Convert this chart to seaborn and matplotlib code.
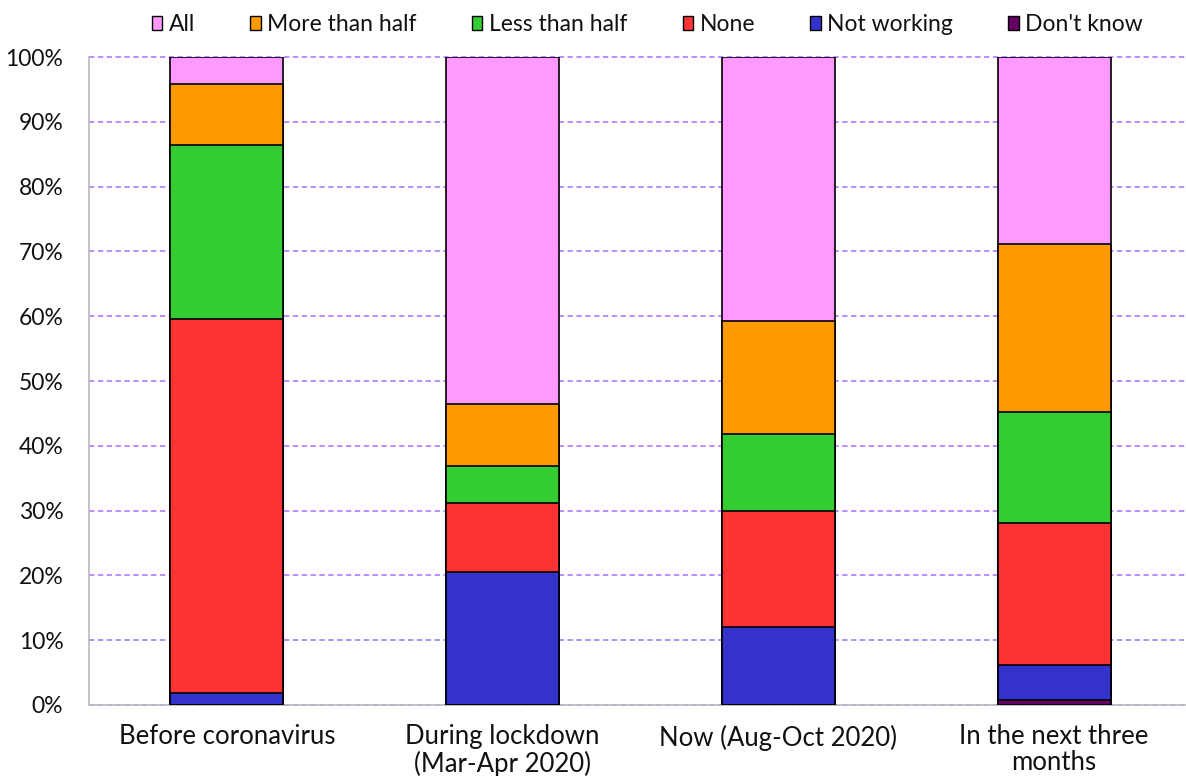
import matplotlib
matplotlib.use("Agg")
import matplotlib.pyplot as plt
import seaborn as sns
import numpy as np
import pandas as pd
from matplotlib.patches import Patch
from matplotlib.ticker import FixedLocator

categories = ["Before coronavirus", "During lockdown\n(Mar-Apr 2020)",
              "Now (Aug-Oct 2020)", "In the next three\nmonths"]
series_names = ["All", "More than half", "Less than half", "None", "Not working", "Don't know"]
all_vals = [4.2, 53.5, 40.7, 28.9]
more_half = [9.4, 9.6, 17.5, 25.9]
less_half = [26.9, 5.7, 11.9, 17.1]
none_vals = [57.7, 10.7, 17.9, 21.9]
not_working = [1.8, 20.5, 12.0, 5.4]
dont_know = [0.0, 0.0, 0.0, 0.8]
colors = ["#FF99FF", "#FF9900", "#33CC33", "#FF3333", "#3333CC", "#660066"]

sns.set_theme(style="white")
plt.rcParams['font.family'] = ['Lato', 'DejaVu Sans']

fig = plt.figure(figsize=(11.86, 7.76), dpi=100)
ax = fig.add_axes([0.0751, 0.0915, 0.93, 0.835])

series = [all_vals, more_half, less_half, none_vals, not_working, dont_know]
# stacked from bottom: dont_know, not_working, none, less, more, all
stack_order = list(range(len(series)))[::-1]
cum = np.zeros(len(categories))
cums = {}
for i in stack_order:
    cum = cum + np.array(series[i])
    cums[i] = cum.copy()

for i in range(len(series)):
    if np.allclose(series[i], 0):
        continue
    df = pd.DataFrame({"cat": categories, "val": cums[i]})
    sns.barplot(data=df, x="cat", y="val", color=colors[i], ax=ax, width=0.41,
                edgecolor="black", linewidth=1.2, saturation=1, zorder=3)

ax.set_ylim(0, 100)
ax.set_xlim(-0.5, 3.5)
ax.set_yticks(np.arange(0, 101, 10))
ax.set_yticklabels([f"{v}%" for v in range(0, 101, 10)], fontsize=16.5, color="#111111")
ax.set_xlabel("")
ax.set_ylabel("")
ax.tick_params(axis="x", which="major", length=0, labelsize=18.5, pad=14, labelcolor="#111111")
ax.xaxis.set_minor_locator(FixedLocator([-0.5, 0.5, 1.5, 2.5]))
ax.tick_params(axis="x", which="minor", length=8, color="#BBBBBB", width=1, direction="out")
ax.tick_params(axis="y", which="major", length=5, color="#BBBBBB", width=1, direction="out", pad=13.5)
for lbl in ax.get_xticklabels():
    lbl.set_linespacing(1.05)

ax.yaxis.grid(True, linestyle=(0, (3.5, 2.3)), color="#A070FF", linewidth=1.1, zorder=0)
for gl in ax.get_ygridlines():
    gl.set_clip_on(False)
ax.set_axisbelow(True)
for s in ["top", "right"]:
    ax.spines[s].set_visible(False)
ax.spines["left"].set_color("#BBBBBB")
ax.spines["bottom"].set_color("#BBBBBB")
ax.spines["left"].set_zorder(4)

handles = [Patch(facecolor=c, edgecolor="black", linewidth=1) for c in colors]
fig.legend(handles, series_names, loc="center", bbox_to_anchor=(0.546, 0.968), ncol=6,
           frameon=False, fontsize=16.5, handlelength=0.45, handleheight=0.57,
           handletextpad=0.3, columnspacing=2.4, labelcolor="#111111")

fig.savefig("out.png", dpi=100)
